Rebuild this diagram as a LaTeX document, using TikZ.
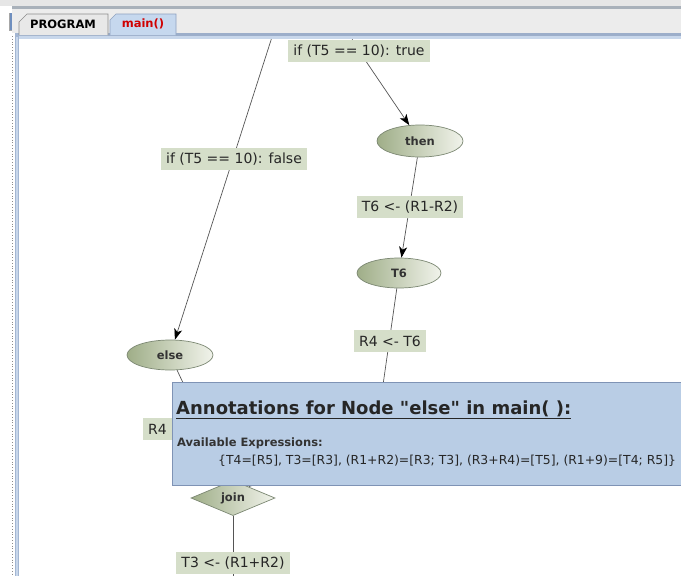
\documentclass[tikz,border=0pt]{standalone}
\usepackage{fontspec}
\setmainfont{DejaVu Sans}
% plain family without TeX ligature mapping, so " stays a straight quote
\newfontfamily\rawfont{DejaVu Sans}
\usetikzlibrary{shapes.geometric,arrows.meta}

\definecolor{lblfill}{HTML}{D5DEC9}
\definecolor{ellL}{HTML}{9FAE88}
\definecolor{ellR}{HTML}{F1F3EB}
\definecolor{ellEdge}{HTML}{7C8873}
\definecolor{tipfill}{HTML}{B9CDE5}
\definecolor{tipedge}{HTML}{7F93B5}
\definecolor{barblue}{HTML}{A3B6D2}
\definecolor{barbluelt}{HTML}{C8D7EB}
\definecolor{barbluedk}{HTML}{9CAECA}
\definecolor{tabgray}{HTML}{E8E8E8}
\definecolor{tabblue}{HTML}{C6D8EE}
\definecolor{tabblueedge}{HTML}{8EA2C0}
\definecolor{tabred}{HTML}{D00000}
\definecolor{stroke}{HTML}{555555}
\definecolor{panel}{HTML}{ECECEC}
\definecolor{topband}{HTML}{E6E6E6}
\definecolor{topline}{HTML}{A9B1BA}
\definecolor{scrollmark}{HTML}{6F8FBF}

\begin{document}
\begin{tikzpicture}[x=1pt,y=-1pt,
  flownode/.style={ellipse, draw=ellEdge, line width=0.7pt,
    left color=ellL, right color=ellR, inner sep=0pt,
    minimum width=86pt, minimum height=32pt,
    font=\fontsize{11.5}{13}\selectfont\bfseries, text=black!80},
  joinnode/.style={diamond, draw=ellEdge, line width=0.7pt,
    left color=ellL, right color=ellR, inner sep=0pt,
    minimum width=84pt, minimum height=32pt,
    font=\fontsize{11.5}{13}\selectfont\bfseries, text=black!80},
  edgelbl/.style={fill=lblfill, inner xsep=5pt, inner ysep=0pt,
    minimum height=22pt, font=\fontsize{14}{16}\selectfont, text=black!85},
  flow/.style={draw=stroke, line width=0.7pt},
  arr/.style={flow, -{Stealth[length=11pt,width=8pt,inset=3pt,color=black]}},
  tabtxt/.style={inner sep=0pt, font=\fontsize{11.5}{13}\selectfont\bfseries},
]
\useasboundingbox (0,0) rectangle (681,576);
\clip (0,0) rectangle (681,576);

% window background and canvas
\fill[white] (0,0) rectangle (681,576);
\fill[black!35] (9,13) rectangle (12,31);
\fill[scrollmark] (10,13) rectangle (12,30);
\draw[black!45, dotted, line width=0.8pt] (12,36) -- (12,576);
\fill[barblue] (15,33) rectangle (19,576);
\fill[barbluelt] (16,37) rectangle (18,576);

% flow graph nodes
\node[flownode] (then) at (420,141) {then};
\node[flownode, minimum width=84pt, minimum height=30pt] (t6) at (399,273) {T6};
\node[flownode, minimum height=30pt] (else) at (170,355) {else};
\node[joinnode] (join) at (233,498) {join};

\coordinate (topF) at (272,37);
\coordinate (topT) at (352,37);
\coordinate (t6Mid) at (382,392);
\coordinate (elseMid) at (206,432);
\coordinate (botJ) at (233,580);

% connectors
\draw[arr] (topF) -- (else);
\draw[flow] (topT) -- (354,51);
\draw[arr] (359,51) -- (then);
\draw[arr] (then) -- (t6);
\draw[flow] (t6) -- (t6Mid);
\draw[arr] (t6Mid) -- (join);
\draw[flow] (else) -- (elseMid);
\draw[arr] (elseMid) -- (join);
\draw[flow] (join) -- (botJ);

% edge labels
\node[edgelbl] (ltrue) at (359,51) {if (T5 == 10): true};
\node[edgelbl] (lfalse) at (234,159) {if (T5 == 10): false};
\node[edgelbl] (lt6) at (410,207) {T6 <- (R1-R2)};
\node[edgelbl] (lr4) at (390,341) {R4 <- T6};
\node[edgelbl, anchor=west, text width=114pt, align=left] (lr4b) at (143,429) {R4};
\node[edgelbl] (lt3) at (233,563) {T3 <- (R1+R2)};

% annotation popup
\node[draw=tipedge, fill=tipfill, line width=0.8pt, anchor=north west,
      minimum width=530pt, minimum height=103pt, inner sep=0pt] (tip) at (172,382) {};
\node[anchor=base west, inner sep=0pt, font=\rawfont\fontsize{18}{20}\selectfont\bfseries,
      text=black!85] (tiptitle) at (176,414)
  {\underline{Annotations for Node "else" in main( ):}};
\node[anchor=base west, inner sep=0pt, font=\fontsize{11.5}{13}\selectfont\bfseries,
      text=black!80] (tiphead) at (177,446) {Available Expressions:};
\node[anchor=base west, inner sep=0pt, font=\fontsize{12.4}{14}\selectfont,
      text=black!85] (tipbody) at (218,464)
  {\{T4=[R5], T3=[R3], (R1+R2)=[R3; T3], (R3+R4)=[T5], (R1+9)=[T4; R5]\}};

% tab bar
\fill[topband] (0,0) rectangle (681,6);
\fill[topline] (12,6) rectangle (681,9);
\fill[panel] (12,9) rectangle (681,33);
\fill[barbluedk] (19,33) rectangle (681,36);
\fill[barbluelt] (19,36) rectangle (681,39);
\draw[fill=tabgray, draw=black!45, line width=0.7pt]
  (19,35) -- (19,22) -- (27,14) -- (108,14) -- (108,35);
\draw[fill=tabblue, draw=tabblueedge, line width=0.7pt]
  (110,35) -- (110,20) -- (116,14) -- (176,14) -- (176,35);
\node[tabtxt, text=black] (tabprog) at (63,24) {PROGRAM};
\node[tabtxt, text=tabred] (tabmain) at (143,24) {main()};
\end{tikzpicture}
\end{document}
